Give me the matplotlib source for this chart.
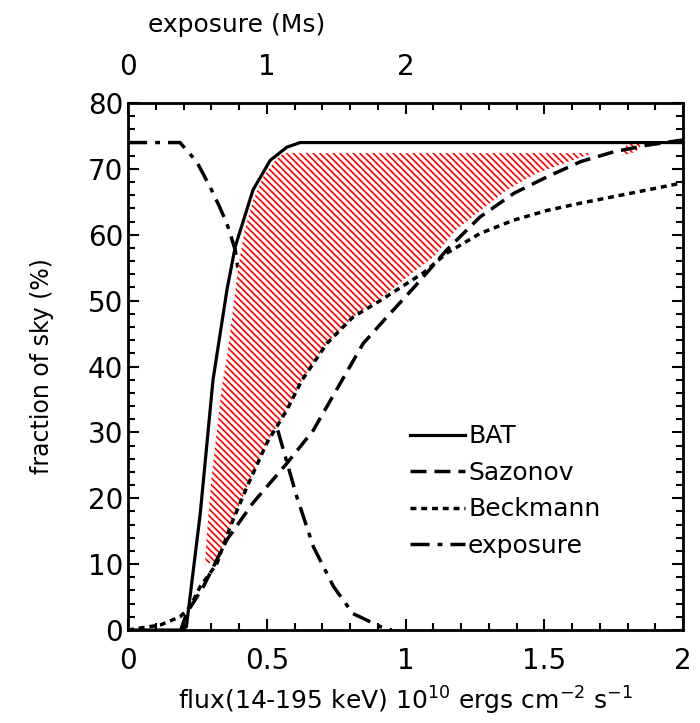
import numpy as np
from matplotlib import pyplot as plt
from matplotlib.ticker import MultipleLocator

# --- data (flux in 1e-10 erg/cm2/s, sky fraction in %) ---
bat_x = [0.0, 0.19, 0.21, 0.26, 0.306, 0.356, 0.386, 0.45, 0.512, 0.572, 0.62, 2.0]
bat_y = [0.0, 0.0, 0.5, 17.7, 38.0, 51.6, 58.2, 66.8, 71.3, 73.3, 74.0, 74.0]

saz_x = [0.19, 0.21, 0.27, 0.356, 0.45, 0.572, 0.667, 0.75, 0.847, 0.932, 1.03,
         1.148, 1.268, 1.39, 1.51, 1.63, 1.75, 1.87, 2.0]
saz_y = [0.0, 2.5, 6.5, 13.7, 19.3, 25.3, 30.3, 36.4, 43.5, 47.5, 52.0,
         57.7, 62.7, 66.3, 68.8, 71.1, 72.6, 73.6, 74.4]

beck_x = [0.0, 0.043, 0.115, 0.187, 0.223, 0.26, 0.32, 0.368, 0.428, 0.5, 0.572,
          0.626, 0.716, 0.81, 0.908, 1.063, 1.148, 1.268, 1.388, 1.51, 1.63,
          1.75, 1.87, 2.0]
beck_y = [0.0, 0.3, 0.75, 2.0, 3.5, 6.6, 10.1, 15.7, 21.7, 28.4, 33.4,
          37.9, 43.5, 47.5, 50.0, 54.2, 57.2, 60.2, 62.2, 63.7, 64.8,
          65.8, 66.8, 67.9]

expo_x = [0.0, 0.187, 0.247, 0.295, 0.33, 0.356, 0.386, 0.397, 0.45, 0.5, 0.536,
          0.608, 0.668, 0.74, 0.81, 0.91, 0.95]
expo_y = [74.0, 74.0, 71.1, 67.3, 64.2, 61.7, 57.7, 54.6, 46.0, 37.5, 30.8,
          20.2, 12.6, 6.6, 2.5, 0.5, 0.0]

# hatched region outline
hatch_x = [0.277, 0.285, 0.30, 0.32, 0.338, 0.356, 0.379, 0.397, 0.42, 0.45, 0.487,
           0.53, 0.56, 1.676, 1.58, 1.47, 1.365, 1.27, 1.18, 1.1, 1.03, 0.932,
           0.81, 0.716, 0.626, 0.572, 0.5, 0.428, 0.368, 0.32]
hatch_y = [9.9, 15.2, 22.8, 30.3, 37.0, 41.4, 49.0, 55.1, 60.7, 65.2, 68.8,
           71.3, 72.4, 72.4, 71.0, 69.3, 66.8, 63.7, 60.7, 56.6, 54.4, 51.1,
           47.5, 43.5, 37.9, 33.4, 28.4, 21.7, 15.7, 10.6]
patch_x = [1.78, 1.80, 1.86, 1.83]
patch_y = [72.0, 74.2, 74.2, 72.6]

top_ticks = [0, 0.5, 1.0, 1.5, 2.0]
top_labels = ['0', '1', '2', '', '']

plt.rcParams['font.family'] = 'DejaVu Sans'
plt.rcParams['hatch.color'] = 'red'
plt.rcParams['hatch.linewidth'] = 1.2

fig = plt.figure(figsize=(7, 7.23), dpi=100)
ax = fig.add_axes([0.183, 0.1286, 0.793, 0.7289])

ax.plot(expo_x, expo_y, color='k', lw=2.5, dashes=(5.5, 2.3, 1.4, 2.3), zorder=1, label='exposure')
ax.fill(hatch_x, hatch_y, facecolor='white', edgecolor='red', linewidth=0,
        hatch='\\\\\\\\\\', zorder=2)
ax.fill(patch_x, patch_y, facecolor='white', edgecolor='red', linewidth=0,
        hatch='\\\\\\\\\\', zorder=2)
ax.plot(bat_x, bat_y, color='k', lw=2.3, zorder=3, label='BAT')
ax.plot(saz_x, saz_y, color='k', lw=2.5, dashes=(4.6, 2.3), zorder=3, label='Sazonov')
ax.plot(beck_x, beck_y, color='k', lw=2.5, dashes=(1.7, 1.4), zorder=3, label='Beckmann')

ax.set_xlim(0, 2)
ax.set_ylim(0, 80)
ax.xaxis.set_major_locator(MultipleLocator(0.5))
ax.xaxis.set_minor_locator(MultipleLocator(0.1))
ax.yaxis.set_major_locator(MultipleLocator(10))
ax.yaxis.set_minor_locator(MultipleLocator(2))
ax.set_xticks([0, 0.5, 1, 1.5, 2], ['0', '0.5', '1', '1.5', '2'])
ax.tick_params(which='both', direction='in', right=True, labelsize=20, width=1.5)
ax.tick_params(which='major', length=8)
ax.tick_params(which='minor', length=5)
ax.tick_params(axis='x', pad=12)
for s in ax.spines.values():
    s.set_linewidth(2)

ax.set_xlabel('flux(14-195 keV) 10$^{10}$ ergs cm$^{-2}$ s$^{-1}$', fontsize=18, labelpad=7)
ax.set_ylabel('fraction of sky (%)', fontsize=17, labelpad=24)

top = ax.twiny()
top.set_xlim(0, 2)
top.set_xticks(top_ticks, top_labels)
top.xaxis.set_minor_locator(MultipleLocator(0.1))
top.tick_params(which='both', direction='in', labelsize=20, width=1.5, pad=16)
top.tick_params(which='major', length=8)
top.tick_params(which='minor', length=5)
fig.text(148 / 700, 1 - 25 / 723, 'exposure (Ms)', fontsize=18, va='center', ha='left')

h, l = ax.get_legend_handles_labels()
order = [1, 2, 3, 0]
ax.legend([h[i] for i in order], [l[i] for i in order], loc='upper left',
          bbox_to_anchor=(0.508, 0.39), frameon=False, fontsize=18,
          handlelength=2.2, handletextpad=0.12, labelspacing=0.5, borderpad=0,
          borderaxespad=0)

fig.savefig('out.png', dpi=100)
